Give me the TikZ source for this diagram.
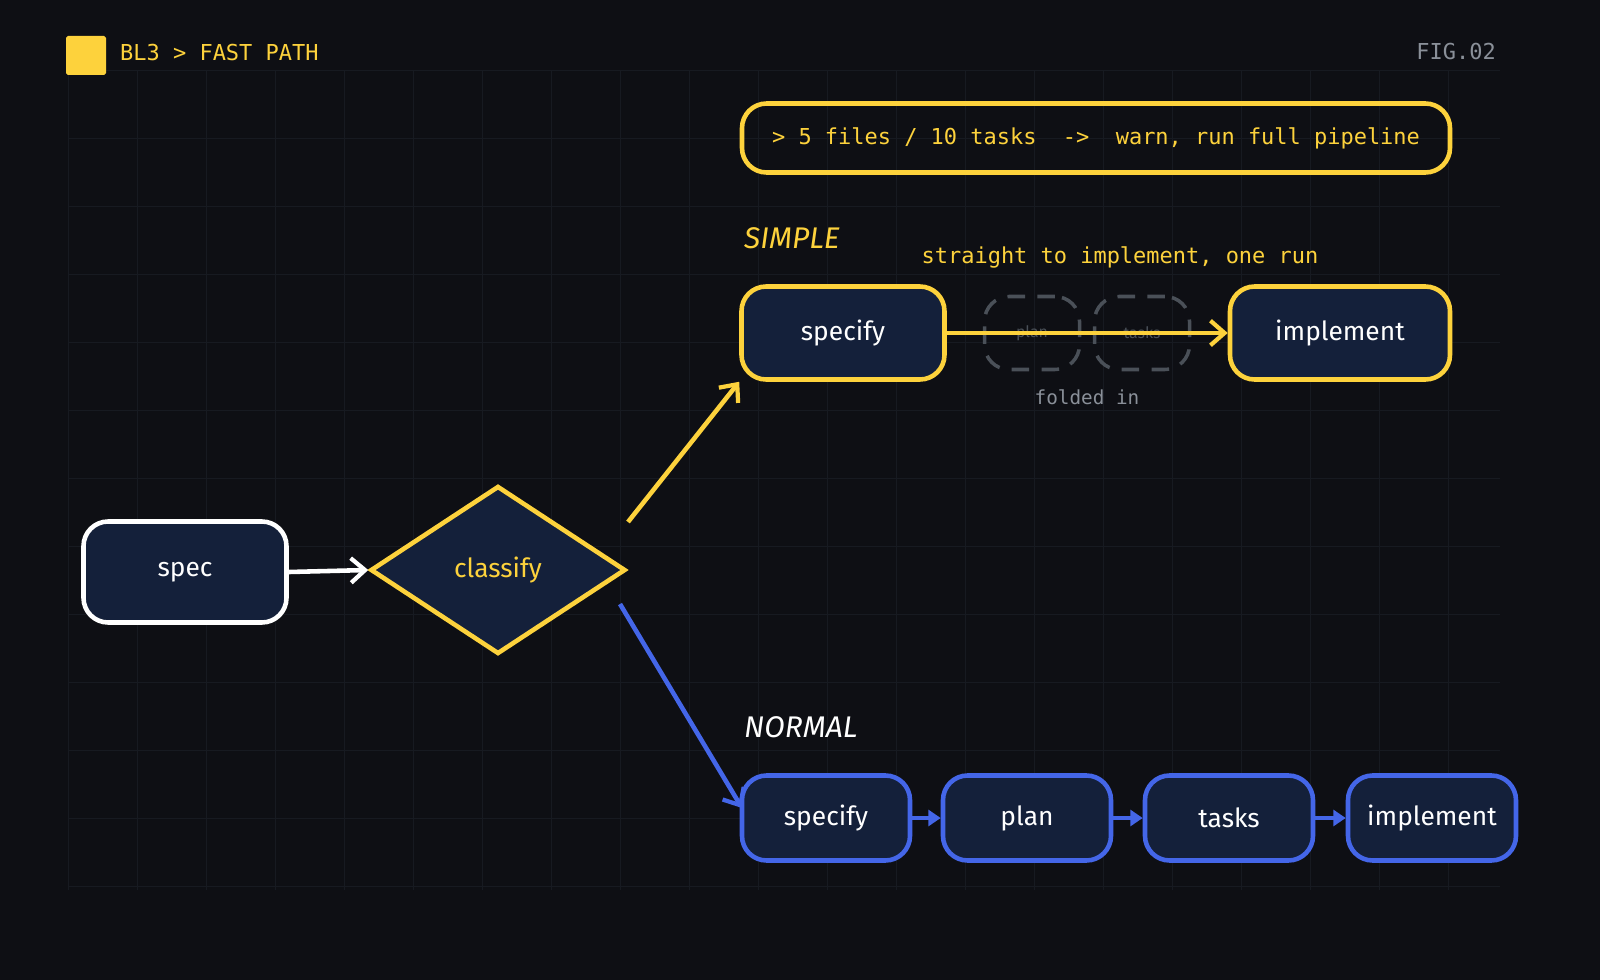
\documentclass[tikz,border=0pt]{standalone}
\usepackage{fontspec}
\setmonofont{DejaVu Sans Mono}
\newfontfamily\handfont{Fira Sans}
\usetikzlibrary{positioning,shapes.geometric,arrows.meta}
\definecolor{bgc}{HTML}{0E0F14}
\definecolor{gridc}{HTML}{171A21}
\definecolor{navy}{HTML}{14203A}
\definecolor{sun}{HTML}{FDD23C}
\definecolor{azure}{HTML}{4466E8}
\definecolor{ashc}{HTML}{8A9099}
\definecolor{dashc}{HTML}{4A5058}
\tikzset{
    stage/.style={draw, line width=2.6pt, rounded corners=14pt, fill=navy, text=white,
        font=\handfont\fontsize{15}{15}\selectfont},
    mono/.style={font=\ttfamily\fontsize{12.5}{12.5}\selectfont},
    flow/.style={line width=2.6pt, -{Straight Barb[length=8pt,width=14pt,line width=2.4pt]}},
}
\begin{document}
\begin{tikzpicture}[x=0.02cm, y=-0.02cm]
        \fill[bgc] (0,0) rectangle (1600,980);
        \foreach \x in {68,137,...,1500} {
            \draw[gridc, line width=0.5pt] (\x,70) -- (\x,890);
        }
        \foreach \y in {70,138,...,890} {
            \draw[gridc, line width=0.5pt] (68,\y) -- (1500,\y);
        }

        % header
        \fill[sun, rounded corners=1pt] (66,36) rectangle (106,75);
        \node[mono, text=sun, anchor=west] (title) at (114,53) {BL3 > FAST PATH};
        \node[mono, text=ashc, anchor=east] (fig) at (1502,52) {FIG.02};

        \node[draw=sun, line width=2.6pt, rounded corners=14pt, minimum width=708*0.02cm,
            minimum height=69*0.02cm, mono, text=sun] (warn) at (1096,138)
            {> 5 files / 10 tasks \ -> \ warn, run full pipeline};

        % simple path
        \node[text=sun, anchor=west, font=\handfont\itshape\fontsize{17}{17}\selectfont] (simple) at (738,238) {SIMPLE};
        \node[mono, text=sun] (straight) at (1120,257) {straight to implement, one run};
        \node[stage, draw=sun, minimum width=203*0.02cm, minimum height=93*0.02cm] (s1) at (843,333) {specify};
        \node[stage, draw=sun, minimum width=220*0.02cm, minimum height=93*0.02cm] (s2) at (1340,333) {implement};
        \node[draw=dashc, line width=2pt, dash pattern=on 10pt off 7pt, rounded corners=14pt,
            minimum width=95*0.02cm, minimum height=73*0.02cm, text=dashc,
            font=\handfont\fontsize{9}{9}\selectfont] (f1) at (1032,333) {plan};
        \node[draw=dashc, line width=2pt, dash pattern=on 10pt off 7pt, rounded corners=14pt,
            minimum width=95*0.02cm, minimum height=73*0.02cm, text=dashc,
            font=\handfont\fontsize{9}{9}\selectfont] (f2) at (1142,333) {tasks};
        \node[mono, text=ashc, font=\ttfamily\fontsize{11}{11}\selectfont] (folded) at (1087,397) {folded in};
        \draw[flow, sun] (s1.east) -- (s2.west);

        % start
        \node[stage, draw=white, minimum width=203*0.02cm, minimum height=101*0.02cm] (spec) at (185,572) {spec};
        \node[diamond, draw=sun, line width=2.6pt, fill=navy, text=sun, aspect=1.5,
            minimum width=255*0.02cm, minimum height=168*0.02cm, inner sep=0pt,
            font=\handfont\fontsize{15}{15}\selectfont] (classify) at (498,570) {classify};
        \draw[flow, white] (spec.east) -- (classify.west);
        \coordinate (up) at (628,522);
        \coordinate (down) at (620,604);
        \coordinate (n1in) at (742,808);
        \draw[flow, sun] (up) -- (s1.south west);
        \draw[flow, azure] (down) -- (n1in);

        % normal path
        \node[text=white, anchor=west, font=\handfont\itshape\fontsize{17}{17}\selectfont] (normal) at (738,727) {NORMAL};
        \node[stage, draw=azure, minimum width=168*0.02cm, minimum height=85*0.02cm] (n1) at (826,818) {specify};
        \node[stage, draw=azure, minimum width=168*0.02cm, minimum height=85*0.02cm] (n2) at (1027,818) {plan};
        \node[stage, draw=azure, minimum width=168*0.02cm, minimum height=85*0.02cm] (n3) at (1229,818) {tasks};
        \node[stage, draw=azure, minimum width=168*0.02cm, minimum height=85*0.02cm] (n4) at (1432,818) {implement};
        \foreach \a/\b in {n1/n2, n2/n3, n3/n4} {
            \draw[azure, line width=2.6pt, -{Triangle[length=7pt,width=9pt]}] (\a.east) -- (\b.west);
        }
\end{tikzpicture}
\end{document}
